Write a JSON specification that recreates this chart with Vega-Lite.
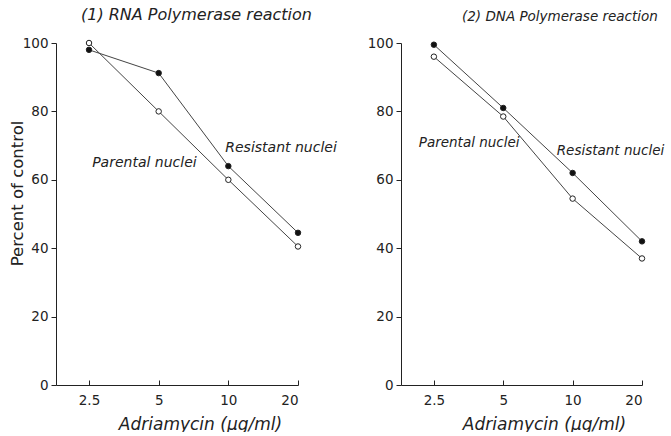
{
  "$schema": "https://vega.github.io/schema/vega-lite/v6.json",
  "padding": {"left": 9, "top": 7, "right": 0, "bottom": 0},
  "bounds": "flush",
  "spacing": 103,
  "background": "white",
  "config": {
    "view": {"stroke": null},
    "font": "DejaVu Sans",
    "axis": {
      "grid": false,
      "domainColor": "#222",
      "tickColor": "#222",
      "labelColor": "#222",
      "titleColor": "#222",
      "labelFont": "DejaVu Sans",
      "titleFont": "DejaVu Sans",
      "labelFontSize": 13.5,
      "titleFontSize": 16.5,
      "titleFontWeight": "normal",
      "domainWidth": 1,
      "tickWidth": 1
    },
    "title": {"font": "DejaVu Sans", "fontWeight": "normal", "fontStyle": "italic", "color": "#222", "anchor": "start", "frame": "group"}
  },
  "datasets": {
    "points": [
      {"panel": "1", "series": "Resistant", "dose": 2.5, "pct": 98},
      {"panel": "1", "series": "Resistant", "dose": 5, "pct": 91.2},
      {"panel": "1", "series": "Resistant", "dose": 10, "pct": 64},
      {"panel": "1", "series": "Resistant", "dose": 20, "pct": 44.5},
      {"panel": "1", "series": "Parental", "dose": 2.5, "pct": 100},
      {"panel": "1", "series": "Parental", "dose": 5, "pct": 80},
      {"panel": "1", "series": "Parental", "dose": 10, "pct": 60},
      {"panel": "1", "series": "Parental", "dose": 20, "pct": 40.5},
      {"panel": "2", "series": "Resistant", "dose": 2.5, "pct": 99.5},
      {"panel": "2", "series": "Resistant", "dose": 5, "pct": 81},
      {"panel": "2", "series": "Resistant", "dose": 10, "pct": 62},
      {"panel": "2", "series": "Resistant", "dose": 20, "pct": 42},
      {"panel": "2", "series": "Parental", "dose": 2.5, "pct": 96},
      {"panel": "2", "series": "Parental", "dose": 5, "pct": 78.5},
      {"panel": "2", "series": "Parental", "dose": 10, "pct": 54.5},
      {"panel": "2", "series": "Parental", "dose": 20, "pct": 37}
    ],
    "labels": [
      {"panel": "1", "text": "Resistant nuclei", "dose": 9.7, "pct": 69.3},
      {"panel": "1", "text": "Parental nuclei", "dose": 2.58, "pct": 64.9},
      {"panel": "2", "text": "Parental nuclei", "dose": 2.15, "pct": 70.8},
      {"panel": "2", "text": "Resistant nuclei", "dose": 8.53, "pct": 68.5}
    ]
  },
  "hconcat": [
    {
      "width": 242,
      "height": 342,
      "title": {"text": "(1) RNA Polymerase reaction", "fontSize": 16, "dx": 25, "offset": 13},
      "layer": [
        {
          "data": {"name": "points"},
          "transform": [{"filter": "datum.panel === '1'"}],
          "mark": {"type": "line", "color": "#444", "strokeWidth": 1},
          "encoding": {
            "x": {"field": "dose", "type": "quantitative", "scale": {"type": "log", "domain": [1.8, 20], "nice": false},
              "axis": {"values": [2.5, 5, 10, 20], "format": "~g", "tickSize": -5, "labelPadding": 13, "title": "Adriamycin (μg/ml)", "titleFontStyle": "italic", "titleFontSize": 17, "titleX": 144, "titleY": 31, "titleBaseline": "top", "titleAlign": "center"}},
            "y": {"field": "pct", "type": "quantitative", "scale": {"domain": [0, 100], "nice": false},
              "axis": {"values": [0, 20, 40, 60, 80, 100], "tickSize": 5, "labelPadding": 3, "title": "Percent of control", "titleX": -31, "titleY": 150, "titleAlign": "center", "titleBaseline": "bottom", "titleAngle": -90}},
            "detail": {"field": "series"}
          }
        },
        {
          "data": {"name": "points"},
          "transform": [{"filter": "datum.panel === '1'"}],
          "mark": {"type": "point", "filled": true, "size": 30, "stroke": "#222", "strokeWidth": 1, "opacity": 1},
          "encoding": {
            "x": {"field": "dose", "type": "quantitative"},
            "y": {"field": "pct", "type": "quantitative"},
            "fill": {"field": "series", "type": "nominal", "scale": {"domain": ["Parental", "Resistant"], "range": ["white", "#111"]}, "legend": null}
          }
        },
        {
          "data": {"name": "labels"},
          "transform": [{"filter": "datum.panel === '1'"}],
          "mark": {"type": "text", "align": "left", "baseline": "middle", "fontSize": 14, "fontStyle": "italic", "color": "#222", "font": "DejaVu Sans"},
          "encoding": {
            "x": {"field": "dose", "type": "quantitative"},
            "y": {"field": "pct", "type": "quantitative"},
            "text": {"field": "text"}
          }
        }
      ]
    },
    {
      "width": 241,
      "height": 342,
      "title": {"text": "(2) DNA Polymerase reaction", "fontSize": 13.5, "dx": 61, "offset": 13},
      "layer": [
        {
          "data": {"name": "points"},
          "transform": [{"filter": "datum.panel === '2'"}],
          "mark": {"type": "line", "color": "#444", "strokeWidth": 1},
          "encoding": {
            "x": {"field": "dose", "type": "quantitative", "scale": {"type": "log", "domain": [1.8, 20], "nice": false},
              "axis": {"values": [2.5, 5, 10, 20], "format": "~g", "tickSize": -5, "labelPadding": 13, "title": "Adriamycin (μg/ml)", "titleFontStyle": "italic", "titleFontSize": 17, "titleX": 143, "titleY": 31, "titleBaseline": "top", "titleAlign": "center"}},
            "y": {"field": "pct", "type": "quantitative", "scale": {"domain": [0, 100], "nice": false},
              "axis": {"values": [0, 20, 40, 60, 80, 100], "tickSize": 5, "labelPadding": 3, "title": null}},
            "detail": {"field": "series"}
          }
        },
        {
          "data": {"name": "points"},
          "transform": [{"filter": "datum.panel === '2'"}],
          "mark": {"type": "point", "filled": true, "size": 30, "stroke": "#222", "strokeWidth": 1, "opacity": 1},
          "encoding": {
            "x": {"field": "dose", "type": "quantitative"},
            "y": {"field": "pct", "type": "quantitative"},
            "fill": {"field": "series", "type": "nominal", "scale": {"domain": ["Parental", "Resistant"], "range": ["white", "#111"]}, "legend": null}
          }
        },
        {
          "data": {"name": "labels"},
          "transform": [{"filter": "datum.panel === '2'"}],
          "mark": {"type": "text", "align": "left", "baseline": "middle", "fontSize": 13.5, "fontStyle": "italic", "color": "#222", "font": "DejaVu Sans"},
          "encoding": {
            "x": {"field": "dose", "type": "quantitative"},
            "y": {"field": "pct", "type": "quantitative"},
            "text": {"field": "text"}
          }
        }
      ]
    }
  ]
}
